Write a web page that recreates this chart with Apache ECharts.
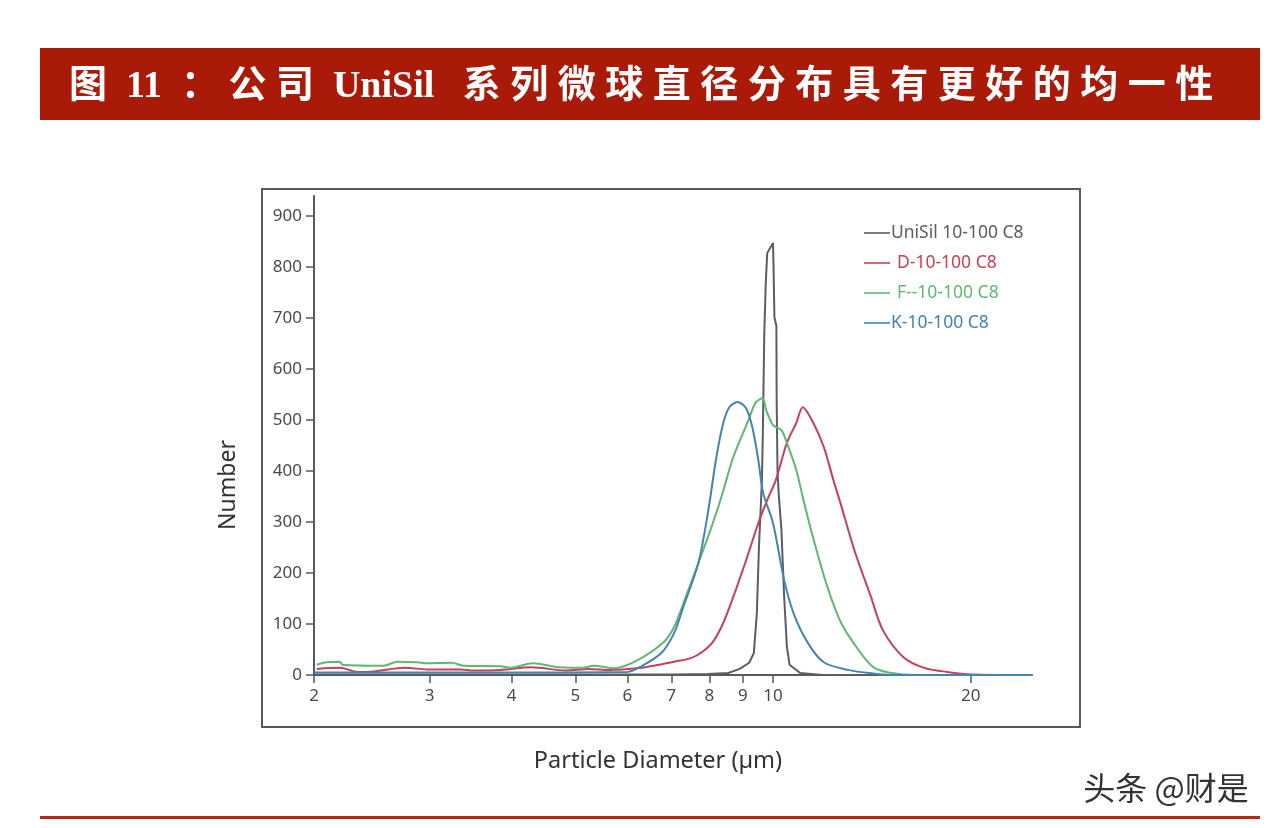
<!DOCTYPE html>
<html>
<head>
<meta charset="utf-8">
<title>UniSil</title>
<script src="https://cdn.jsdelivr.net/npm/echarts@6/dist/echarts.min.js"></script>
<style>
  html, body { margin: 0; padding: 0; background: #fff; }
  #main { width: 1274px; height: 828px; }
</style>
</head>
<body>
<div id="main"></div>
<script>
const seriesNames = ['UniSil 10-100 C8', 'D-10-100 C8', 'F--10-100 C8', 'K-10-100 C8'];
const seriesColors = ['#5a5e62', '#c93f55', '#5fb872', '#4484b2'];
const legendTextGap = [-4, 2, 2, -4];
const xTicks = [2, 3, 4, 5, 6, 7, 8, 9, 10, 20];
const yTicks = [0, 100, 200, 300, 400, 500, 600, 700, 800, 900];

// [particle diameter, number]
const unisilData = [[2,1],[4,1],[7,1],[7.96,2],[8.55,4],[8.9,12],[9.2,24],[9.35,43],[9.45,121],[9.52,251],[9.62,382],[9.65,474],[9.7,670],[9.75,768],[9.8,827],[10,847],[10.02,800],[10.05,702],[10.12,684],[10.13,539],[10.16,400],[10.2,357],[10.3,284],[10.4,153],[10.5,55],[10.6,20],[11,4],[11.9,0],[24.8,0]];
const dData = [[2.02,12],[2.19,14],[2.33,6],[2.47,7],[2.75,14],[2.97,11],[3.35,11],[3.5,9],[3.85,10],[4.28,15],[4.85,9],[5.24,12],[5.64,10],[6.2,13],[6.7,20],[7.07,26],[7.5,33],[7.8,45],[8.1,65],[8.4,102],[8.7,153],[9.1,225],[9.5,298],[9.8,343],[10.1,382],[10.5,455],[10.85,494],[11.1,525],[11.5,496],[11.95,447],[12.36,382],[12.67,337],[13.3,245],[14.1,153],[14.7,88],[15.8,35],[17,14],[18.4,6],[20,1],[24.8,0]];
const fData = [[2.02,20],[2.09,25],[2.19,26],[2.21,20],[2.55,18],[2.68,26],[2.87,25],[2.97,23],[3.24,24],[3.38,18],[3.85,17],[3.98,14],[4.31,23],[4.74,15],[5.14,14],[5.33,18],[5.73,13],[6.2,28],[6.8,63],[7.07,94],[7.4,160],[7.7,220],[8.03,284],[8.35,350],[8.7,427],[9.18,500],[9.4,533],[9.64,543],[9.76,520],[10,490],[10.3,480],[10.5,455],[10.85,402],[11.1,349],[11.5,271],[12.1,173],[12.7,102],[13.5,49],[14.2,16],[15,5],[16.6,0],[24.8,0]];
const kData = [[2,5],[4,5],[6,6],[6.28,16],[6.76,43],[7.07,82],[7.3,133],[7.7,220],[7.96,318],[8.2,427],[8.4,494],[8.58,525],[8.83,535],[9.1,523],[9.3,486],[9.5,421],[9.66,357],[10,298],[10.4,186],[10.75,121],[11.3,63],[11.95,25],[13,10],[14.2,3],[15.3,0],[24.8,0]];

const axisColor = '#555a5e';
const labelColor = '#4a4a4a';
const sansFont = '"Noto Sans", "Open Sans", sans-serif';

const chart = echarts.init(document.getElementById('main'));

function lineSeries(idx, data, smooth) {
  return {
    name: seriesNames[idx],
    type: 'line',
    data: data,
    showSymbol: false,
    smooth: smooth,
    lineStyle: { color: seriesColors[idx], width: 2 },
    itemStyle: { color: seriesColors[idx] }
  };
}

chart.setOption({
  animation: false,
  backgroundColor: '#fff',
  title: {
    text: '图  11  \uFF1A 公 司  UniSil   系 列 微 球 直 径 分 布 具 有 更 好 的 均 一 性',
    left: 64,
    top: 63,
    textStyle: {
      color: '#fff',
      fontFamily: '"Liberation Serif", "Noto Sans CJK SC", serif',
      fontWeight: 'bold',
      fontSize: 38
    }
  },
  grid: { left: 314, right: 242, top: 196, bottom: 153 },
  legend: {
    orient: 'vertical',
    left: 859,
    top: 219,
    itemWidth: 26,
    itemHeight: 14,
    itemGap: 12,
    data: seriesNames.map((name, i) => ({
      name: name,
      icon: 'path://M0 6.2H26V7.8H0Z',
      itemStyle: { color: seriesColors[i], borderWidth: 0 },
      lineStyle: { color: seriesColors[i], width: 0 },
      textStyle: { color: seriesColors[i], padding: [0, 0, 0, legendTextGap[i]] }
    })),
    textStyle: { fontFamily: sansFont, fontSize: 17.5 }
  },
  xAxis: {
    type: 'log',
    min: 2,
    max: 24.8,
    logBase: 10,
    splitLine: { show: false },
    minorTick: { show: false },
    axisLine: { lineStyle: { color: axisColor, width: 2 } },
    axisTick: { customValues: xTicks, length: 8, lineStyle: { color: axisColor, width: 1.5 } },
    axisLabel: {
      customValues: xTicks,
      color: labelColor,
      fontFamily: sansFont,
      fontSize: 17,
      margin: 13,
      formatter: (v) => String(Math.round(v))
    }
  },
  yAxis: {
    type: 'value',
    min: 0,
    max: 939,
    splitLine: { show: false },
    axisLine: { show: true, lineStyle: { color: axisColor, width: 2 } },
    axisTick: { show: true, customValues: yTicks, length: 8, lineStyle: { color: axisColor, width: 1.5 } },
    axisLabel: {
      customValues: yTicks,
      color: labelColor,
      fontFamily: sansFont,
      fontSize: 17,
      margin: 12
    }
  },
  series: [
    lineSeries(0, unisilData, false),
    lineSeries(1, dData, 0.3),
    lineSeries(2, fData, 0.3),
    lineSeries(3, kData, 0.3)
  ],
  graphic: [
    { type: 'rect', z: -1, shape: { x: 40, y: 48, width: 1220, height: 72 }, style: { fill: '#a91b08' } },
    { type: 'rect', z: -1, shape: { x: 40, y: 816, width: 1220, height: 3 }, style: { fill: '#b5281a' } },
    { type: 'rect', z: -1, shape: { x: 262, y: 189, width: 818, height: 538 }, style: { fill: 'none', stroke: '#555a5e', lineWidth: 2 } },
    { type: 'text', x: 658, y: 761, style: { text: 'Particle Diameter (µm)', fill: '#333', font: '23.5px "Noto Sans", sans-serif', textAlign: 'center', textVerticalAlign: 'middle' } },
    { type: 'text', x: 228, y: 485, rotation: Math.PI / 2, style: { text: 'Number', fill: '#333', font: '23px "Noto Sans", sans-serif', textAlign: 'center', textVerticalAlign: 'middle' } },
    { type: 'text', x: 1166, y: 788, style: { text: '头条 @财是', fill: '#333', font: '32px "Noto Sans CJK SC", sans-serif', textAlign: 'center', textVerticalAlign: 'middle' } }
  ]
});
</script>
</body>
</html>
